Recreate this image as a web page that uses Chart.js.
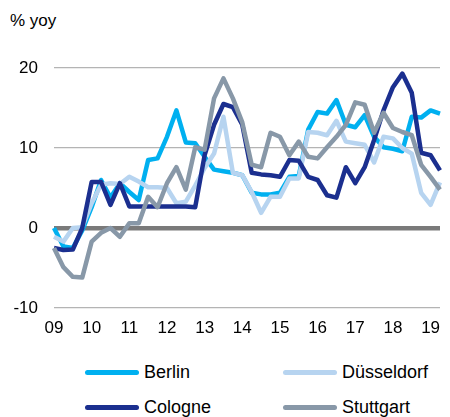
<!DOCTYPE html>
<html lang="en">
<head>
    <meta charset="UTF-8">
    <title>% yoy</title>
    <script src="https://cdn.jsdelivr.net/npm/chart.js@4.4.1/dist/chart.umd.min.js"></script>
    <style>
        body {
            margin: 0;
            width: 450px;
            height: 417px;
            background: #fff;
            font-family: "Liberation Sans", Arial, sans-serif;
            position: relative;
            overflow: hidden;
        }
        #unit {
            position: absolute;
            left: 10px;
            top: 12px;
            font-size: 17px;
            line-height: 17px;
            color: #000;
        }
        .chart-box {
            position: absolute;
            left: 0;
            top: 0;
            width: 450px;
            height: 340px;
        }
        .legend-item {
            position: absolute;
            display: flex;
            align-items: center;
            font-size: 18px;
            color: #000;
        }
        .legend-line {
            width: 54px;
            height: 5px;
            border-radius: 3px;
            margin-right: 5px;
        }
    </style>
</head>
<body>
    <div id="unit">% yoy</div>
    <div class="chart-box">
        <canvas id="chart" width="450" height="340"></canvas>
    </div>
    <div id="legend"></div>

    <script>
        // quarterly, 2009 Q1 .. 2019 Q2
        const years = ['09', '10', '11', '12', '13', '14', '15', '16', '17', '18', '19'];
        const quarters = [];
        years.forEach(y => {
            for (let q = 1; q <= 4; q++) quarters.push(y + 'Q' + q);
        });
        quarters.length = 42;

        const berlin = [0, -2.3, -2.5, -0.3, 2.6, 6, 3.8, 5.6, 4.5, 3.5,
            8.5, 8.7, 11.4, 14.7, 10.7, 10.6, 8.9, 7.3, 7.1, 6.9,
            6.6, 4.4, 4.2, 4.2, 4.4, 6.4, 6.5, 12.3, 14.5, 14.3,
            16, 12.9, 12.6, 14.1, 11.4, 10.1, 9.9, 9.6, 13.9, 13.8,
            14.7, 14.3];
        const duesseldorf = [-1.1, -1.7, 0, 0.1, 3.1, 5.4, 5.6, 5.5, 6.4, 5.8,
            5.1, 5.1, 5, 3.1, 3.3, 5.3, 7.5, 9.3, 13.9, 6.9,
            6.6, 4.5, 1.9, 3.9, 3.9, 6.2, 6.2, 12, 11.9, 11.6,
            13.4, 10.8, 10.6, 10.4, 8.2, 11.4, 11.2, 10, 9.3, 4.4,
            2.9, 5.7];
        const cologne = [-2.5, -2.75, -2.7, 0, 5.75, 5.75, 2.9, 5.6, 2.7, 2.7,
            2.7, 2.7, 2.7, 2.7, 2.7, 2.6, 9.1, 12.9, 15.5, 15.1,
            12.9, 6.9, 6.7, 6.6, 6.4, 8.5, 8.4, 6.4, 6, 4.1,
            3.8, 7.6, 5.6, 7.6, 11, 14.7, 17.6, 19.3, 16.9, 9.4,
            9.1, 7.2];
        const stuttgart = [-2.5, -4.9, -6.1, -6.2, -1.7, -0.6, 0, -1.1, 0.6, 0.6,
            3.9, 2.6, 5.6, 7.6, 4.8, 10.1, 9.8, 16.2, 18.7, 16.2,
            13.2, 7.9, 7.6, 11.9, 11.4, 9.1, 10.8, 8.9, 8.7, 10.1,
            11.4, 12.9, 15.7, 15.4, 11.9, 14.4, 12.5, 12, 11.6, 7.9,
            6.4, 4.8];

        const yTicks = [-10, 0, 10, 20];

        const series = [
            { label: 'Berlin', data: berlin, color: '#00B0F0', order: 4 },
            { label: 'Düsseldorf', data: duesseldorf, color: '#B7D4F0', order: 3 },
            { label: 'Cologne', data: cologne, color: '#1B2F8F', order: 2 },
            { label: 'Stuttgart', data: stuttgart, color: '#8898A8', order: 1 }
        ];

        // legend: two columns, two rows
        const legendPos = [[85, 373], [283, 373], [85, 408], [283, 408]];
        const legend = document.getElementById('legend');
        series.forEach((s, i) => {
            const item = document.createElement('div');
            item.className = 'legend-item';
            item.style.left = legendPos[i][0] + 'px';
            item.style.top = (legendPos[i][1] - 11) + 'px';
            item.innerHTML = '<span class="legend-line" style="background:' + s.color + '"></span><span>' + s.label + '</span>';
            legend.appendChild(item);
        });

        new Chart(document.getElementById('chart'), {
            type: 'line',
            data: {
                labels: quarters,
                datasets: series.map(s => ({
                    label: s.label,
                    data: s.data,
                    borderColor: s.color,
                    backgroundColor: s.color,
                    borderWidth: 4.5,
                    pointRadius: 0,
                    tension: 0,
                    order: s.order,
                    borderJoinStyle: 'round',
                    clip: 3
                }))
            },
            options: {
                responsive: false,
                animation: false,
                layout: { padding: { top: 68, right: 0, left: 0, bottom: 0 } },
                plugins: {
                    legend: { display: false },
                    tooltip: { enabled: false }
                },
                scales: {
                    x: {
                        offset: false,
                        grid: { display: false, drawTicks: false },
                        border: { display: false },
                        ticks: {
                            autoSkip: false,
                            maxRotation: 0,
                            padding: 10,
                            color: '#000',
                            font: { family: 'Liberation Sans, Arial, sans-serif', size: 17 },
                            callback: function (val, idx) {
                                const lab = quarters[idx];
                                return lab.endsWith('Q1') ? lab.slice(0, 2) : '';
                            }
                        },
                        afterFit: scale => { scale.height = 32; }
                    },
                    y: {
                        min: -10,
                        max: 20,
                        afterBuildTicks: scale => {
                            scale.ticks = yTicks.map(v => ({ value: v }));
                        },
                        grid: {
                            drawTicks: false,
                            color: ctx => ctx.tick.value === 0 ? '#7A7A7A' : '#B4B4B4',
                            lineWidth: ctx => ctx.tick.value === 0 ? 4.5 : 1.3
                        },
                        border: { display: false },
                        ticks: {
                            padding: 16,
                            color: '#000',
                            font: { family: 'Liberation Sans, Arial, sans-serif', size: 17 }
                        },
                        afterFit: scale => { scale.width = 54; }
                    }
                }
            }
        });
    </script>
</body>
</html>
